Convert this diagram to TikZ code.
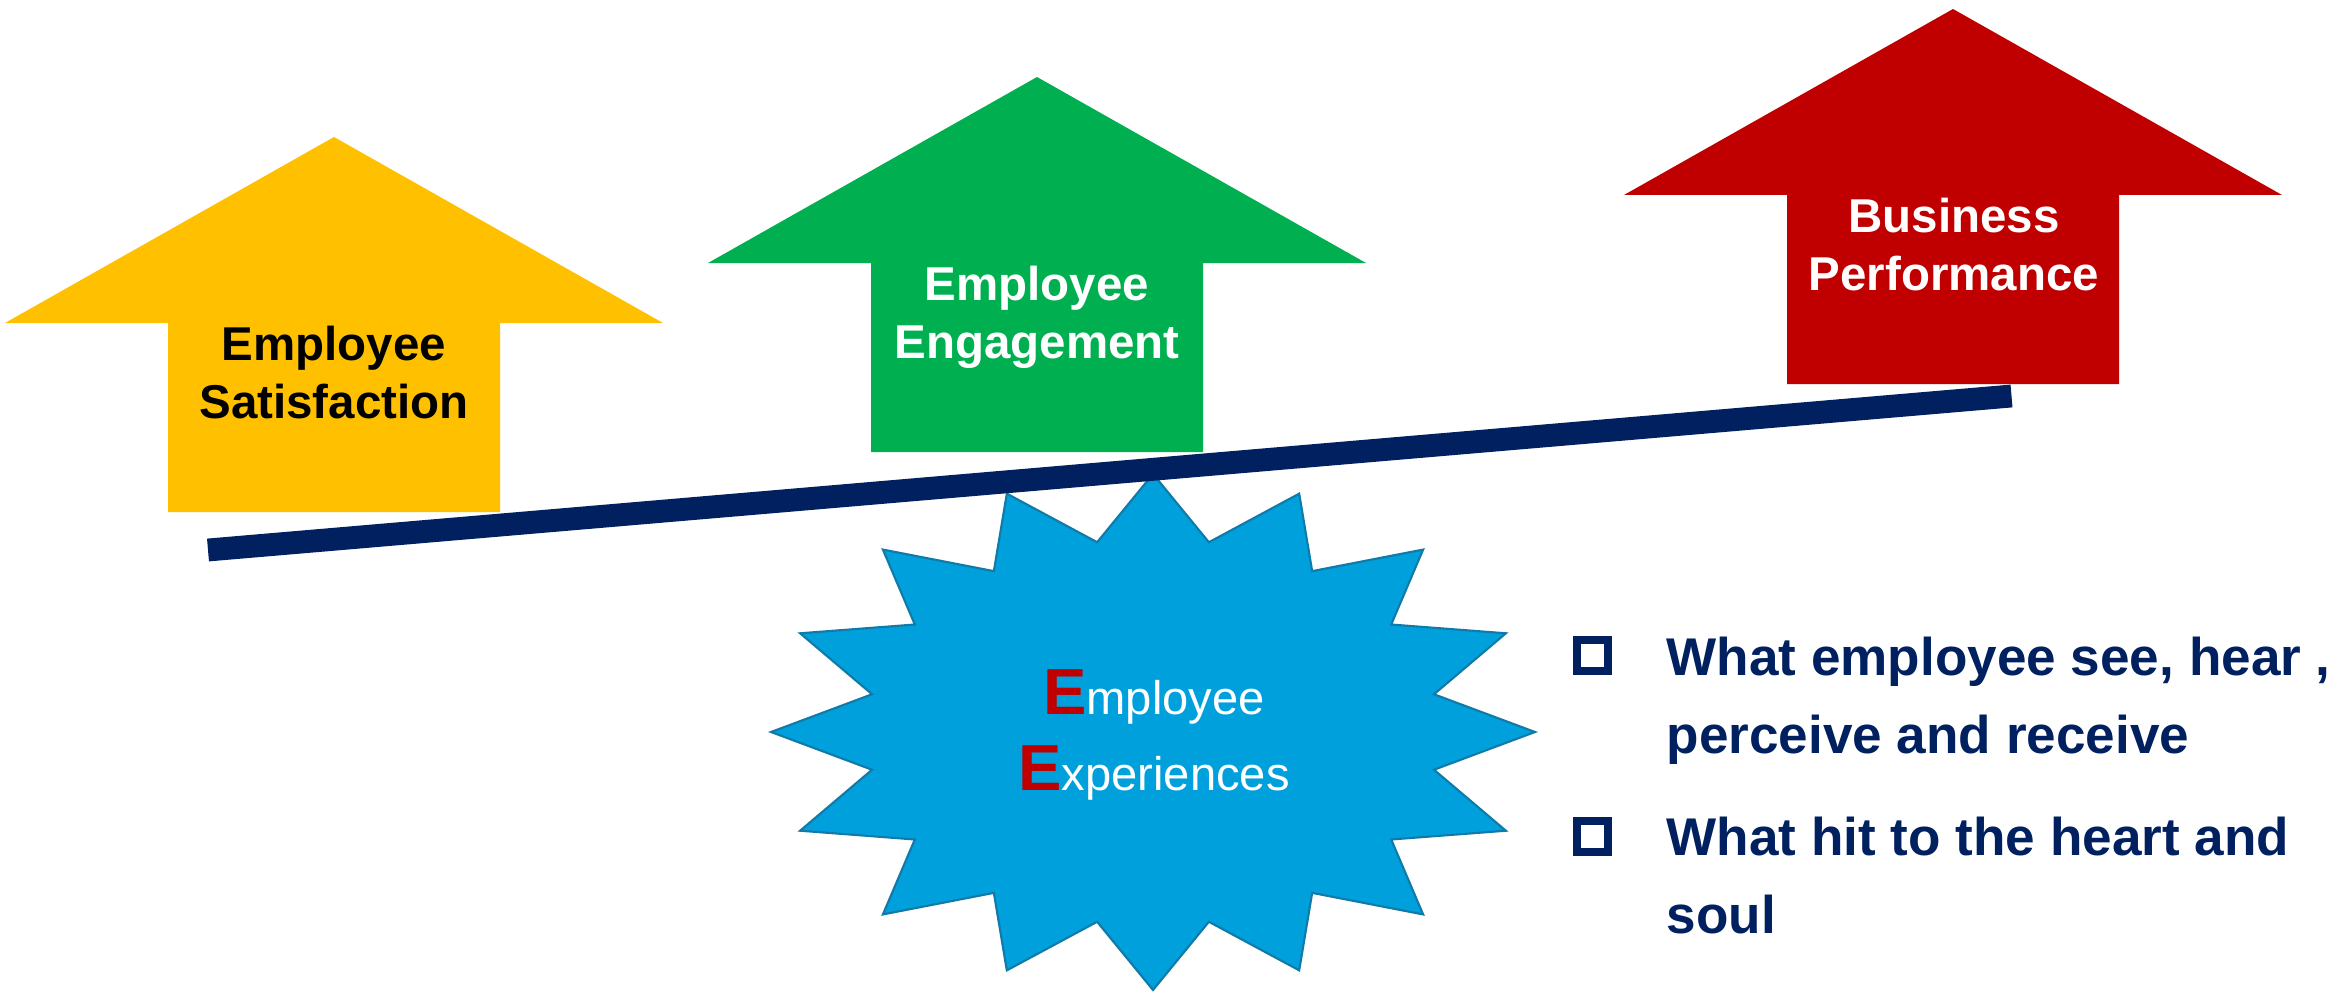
\documentclass[tikz,border=0pt]{standalone}
\usepackage{fontspec}
\setmainfont{Liberation Sans}
\usetikzlibrary{positioning}
\definecolor{gul}{RGB}{255,192,0}
\definecolor{gronn}{RGB}{0,176,80}
\definecolor{rod}{RGB}{192,0,0}
\definecolor{marine}{RGB}{0,32,96}
\definecolor{himmel}{RGB}{0,160,221}
\definecolor{himmelkant}{RGB}{16,122,168}
\newcommand{\storbokstav}[1]{{\bfseries\fontsize{18.5}{21.8}\selectfont\color{rod}#1}}

\begin{document}
\begin{tikzpicture}[
    x = 0.01cm, y = -0.01cm,
    merke/.style = {align=center, anchor=base, inner sep=0pt,
      font=\bfseries\fontsize{13.5}{16.4}\selectfont},
    stjerne/.style = {fill=himmel, draw=himmelkant, line width=0.6pt},
    stjernetekst/.style = {align=center, anchor=base, inner sep=0pt, text=white,
      font=\fontsize{13.4}{21.8}\selectfont},
    bjelke/.style = {marine, line width=6.5pt},
    boks/.style = {rectangle, draw=marine, line width=2.28pt,
      minimum size=0.31cm, inner sep=0pt},
    punkt/.style = {align=left, anchor=base west, inner sep=0pt, text=marine,
      font=\bfseries\fontsize{15.1}{22.1}\selectfont}
    ]

  \useasboundingbox (0,0) rectangle (2334,991);

  % pilene
  \fill[gul] (334,137) -- ++(329,186) -- ++(-163,0) -- ++(0,189)
    -- ++(-332,0) -- ++(0,-189) -- ++(-163,0) -- cycle;
  \fill[gronn] (1037,77) -- ++(329,186) -- ++(-163,0) -- ++(0,189)
    -- ++(-332,0) -- ++(0,-189) -- ++(-163,0) -- cycle;
  \fill[rod] (1953,9) -- ++(329,186) -- ++(-163,0) -- ++(0,189)
    -- ++(-332,0) -- ++(0,-189) -- ++(-163,0) -- cycle;

  % base = siste linje
  \node[merke] (sat) at (334,418.3) {Employee\\Satisfaction} ;
  \node[merke, text=white] (eng) at (1037,358.3) {Employee\\Engagement} ;
  \node[merke, text=white] (bus) at (1954,290) {Business\\Performance} ;

  % stjerna
  \filldraw[stjerne, shift={(1153,732)}] (0,258)
    \foreach \i [evaluate=\i as \faktor using {1-0.25*mod(\i,2)}] in {1,...,31}
      { -- ({382*\faktor*cos(90+\i*11.25)}, {258*\faktor*sin(90+\i*11.25)}) } -- cycle ;

  \node[stjernetekst] (opplev) at (1154,790.8)
    {\storbokstav{E}mployee\\\storbokstav{E}xperiences} ;

  % bjelken
  \coordinate (bv) at (208,550) ;
  \coordinate (bh) at (2011.5,396) ;
  \draw[bjelke] (bv) -- (bh) ;

  % punktene
  \node[boks] (b1) at (1592.8,655.5) {} ;
  \node[boks] (b2) at (1592.8,836.2) {} ;
  \node[punkt] (t1) at (1666,753.3) {What employee see, hear ,\\perceive and receive} ;
  \node[punkt] (t2) at (1666,933.3) {What hit to the heart and\\soul} ;
\end{tikzpicture}
\end{document}
